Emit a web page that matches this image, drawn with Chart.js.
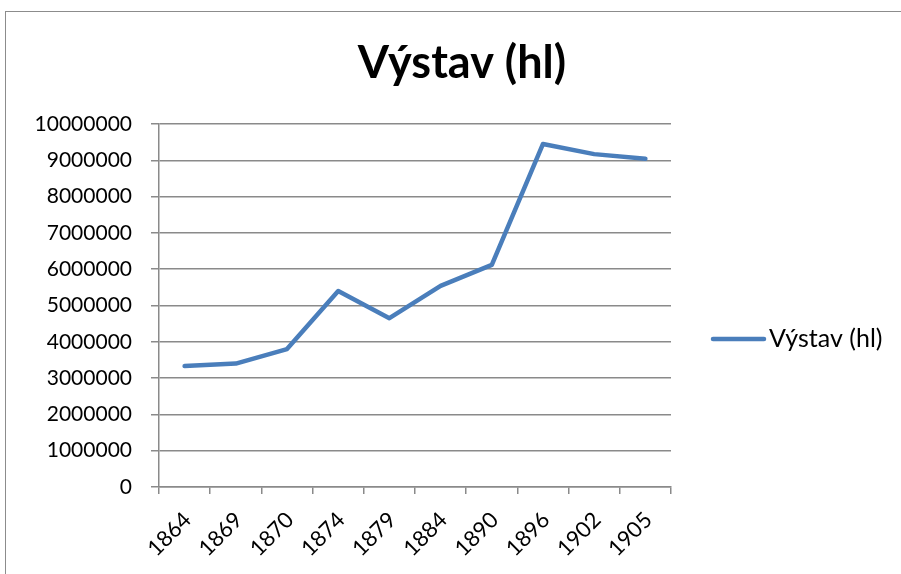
<!DOCTYPE html>
<html>
<head>
<meta charset="utf-8">
<script src="https://cdn.jsdelivr.net/npm/chart.js@4/dist/chart.umd.min.js"></script>
<style>
  html, body { margin: 0; padding: 0; background: #fff; }
  #wrap { width: 901px; height: 574px; position: relative; overflow: hidden; }
  canvas { display: block; }
</style>
</head>
<body>
<div id="wrap"><canvas id="c" width="901" height="574"></canvas></div>
<script>
// ---- data ----
const chartTitle = "Výstav (hl)";
const seriesName = "Výstav (hl)";
const categories = ["1864", "1869", "1870", "1874", "1879", "1884", "1890", "1896", "1902", "1905"];
const values = [3330000, 3400000, 3800000, 5400000, 4650000, 5540000, 6120000, 9450000, 9170000, 9040000];
const yMin = 0;
const yMax = 10000000;
const yStep = 1000000;

const lineColor = "#4a7ebb";
const gridColor = "#8a8a8a";
const fontFamily = "Lato, 'Open Sans', sans-serif";

const framePlugin = {
  id: "frame",
  beforeDraw(chart) {
    const ctx = chart.ctx;
    ctx.save();
    ctx.fillStyle = "#fff";
    ctx.fillRect(0, 0, chart.width, chart.height);
    ctx.strokeStyle = "#8c8c8c";
    ctx.lineWidth = 1;
    ctx.strokeRect(5.5, 11.5, 1200, 1200);
    ctx.restore();
  },
  afterDraw(chart) {
    const ctx = chart.ctx;
    ctx.save();
    // title
    ctx.fillStyle = "#000";
    ctx.font = "bold 45px " + fontFamily;
    ctx.textAlign = "center";
    ctx.textBaseline = "middle";
    ctx.fillText(chartTitle, 462, 63);
    // legend
    const ds = chart.data.datasets[0];
    ctx.strokeStyle = ds.borderColor;
    ctx.lineWidth = 4.5;
    ctx.lineCap = "round";
    ctx.beginPath();
    ctx.moveTo(713, 339);
    ctx.lineTo(764, 339);
    ctx.stroke();
    ctx.font = "25px " + fontFamily;
    ctx.textAlign = "left";
    ctx.fillText(ds.label, 769, 339);
    ctx.restore();
  }
};

new Chart(document.getElementById("c"), {
  type: "line",
  data: {
    labels: categories,
    datasets: [{
      label: seriesName,
      data: values,
      borderColor: lineColor,
      backgroundColor: lineColor,
      borderWidth: 4.5,
      pointRadius: 0,
      pointHoverRadius: 0,
      tension: 0,
      borderJoinStyle: "round",
      borderCapStyle: "round",
      fill: false
    }]
  },
  options: {
    responsive: false,
    animation: false,
    devicePixelRatio: 1,
    layout: { padding: { top: 124, right: 230, bottom: 0, left: 0 } },
    plugins: {
      legend: { display: false },
      title: { display: false },
      tooltip: { enabled: false }
    },
    scales: {
      x: {
        type: "category",
        offset: true,
        grid: {
          offset: true,
          drawOnChartArea: false,
          drawTicks: true,
          tickLength: 7,
          color: gridColor,
          lineWidth: 1.5
        },
        border: { color: gridColor, width: 1.5 },
        ticks: {
          color: "#000",
          font: { family: fontFamily, size: 22 },
          maxRotation: 45,
          minRotation: 45,
          autoSkip: false,
          padding: 13,
          labelOffset: 3
        },
        afterFit(scale) { scale.height = 87; }
      },
      y: {
        min: yMin,
        max: yMax,
        grid: {
          color: gridColor,
          lineWidth: 1.5,
          tickLength: 8
        },
        border: { color: gridColor, width: 1.5 },
        ticks: {
          stepSize: yStep,
          color: "#000",
          font: { family: fontFamily, size: 21 },
          padding: 19,
          callback: (v) => String(v)
        },
        afterFit(scale) { scale.width = 159; }
      }
    }
  },
  plugins: [framePlugin]
});
</script>
</body>
</html>
